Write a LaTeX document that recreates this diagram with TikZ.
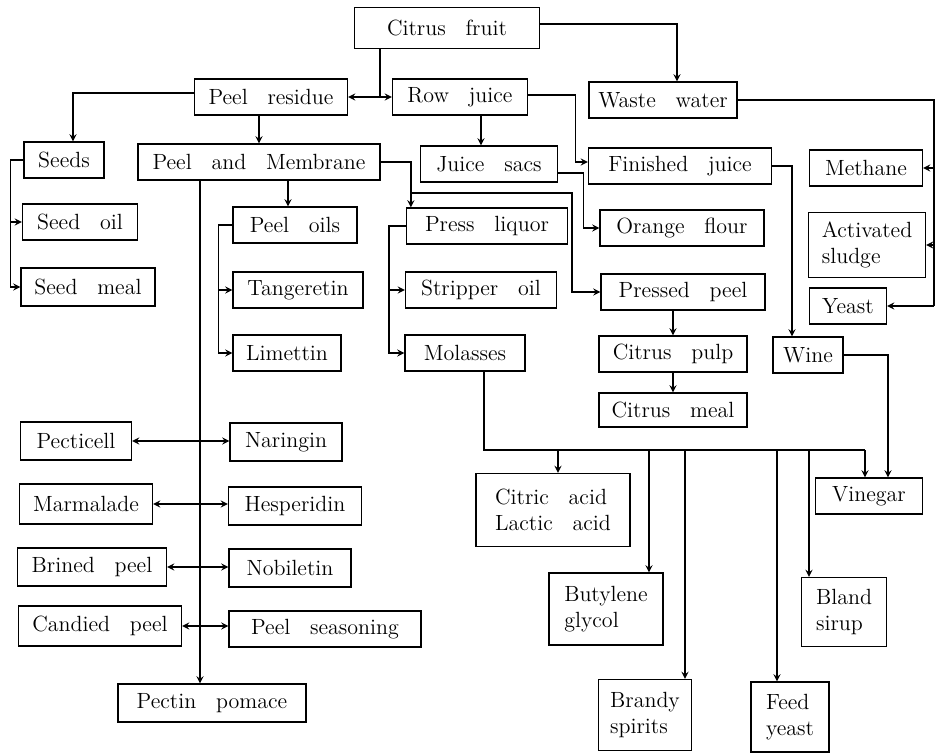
\documentclass[tikz,border=0pt]{standalone}
\newcommand\boxfont{\fontsize{11}{13}\selectfont\spaceskip=0.9em plus 0.1em\relax}
\begin{document}
\begin{tikzpicture}[x=0.5pt,y=-0.5pt,>=stealth,line width=0.6pt,
    font=\boxfont,
    box/.style={draw,rectangle,minimum height=18pt,inner sep=2pt,align=left}]
    \useasboundingbox (0,0) rectangle (936,755);
    % top row
    \node[box,minimum width=92.5pt,minimum height=20.5pt] (citrus) at (447,28) {Citrus fruit};
    \node[box,minimum width=76.5pt] (peelres) at (271,97) {Peel residue};
    \node[box,minimum width=67.5pt] (rowjuice) at (460,97) {Row juice};
    \node[box,minimum width=74pt] (waste) at (663,100) {Waste water};
    \node[box,minimum width=40pt] (seeds) at (64,160) {Seeds};
    \node[box,minimum width=121pt] (pm) at (259,162) {Peel and Membrane};
    \node[box,minimum width=68.5pt] (js) at (489,164) {Juice sacs};
    \node[box,minimum width=91.5pt] (fj) at (680,166) {Finished juice};
    \node[box,minimum width=56.5pt] (methane) at (866,168) {Methane};
    % second level
    \node[box,minimum width=57.5pt] (soil) at (80,222) {Seed oil};
    \node[box,minimum width=67pt,minimum height=19pt] (smeal) at (88,287) {Seed meal};
    \node[box,minimum width=62pt] (po) at (295,225) {Peel oils};
    \node[box,minimum width=65pt] (tang) at (298,290) {Tangeretin};
    \node[box,minimum width=54pt] (lim) at (287,353) {Limettin};
    \node[box,minimum width=80.5pt] (pl) at (487,226) {Press liquor};
    \node[box,minimum width=75.5pt] (so) at (481,290) {Stripper oil};
    \node[box,minimum width=60pt] (mol) at (465,353) {Molasses};
    \node[box,minimum width=82pt] (of) at (682,228) {Orange flour};
    \node[box,minimum width=82pt] (pp) at (683,292) {Pressed peel};
    \node[box,minimum width=58.5pt,minimum height=32.5pt] (sludge) at (867,245) {Activated\\sludge};
    \node[box,minimum width=38.5pt] (yeast) at (848,306) {Yeast};
    \node[box,minimum width=74pt] (cp) at (673,354) {Citrus pulp};
    \node[box,minimum width=35pt] (wine) at (808,355) {Wine};
    \node[box,minimum width=74pt,minimum height=17pt] (cm) at (673,410) {Citrus meal};
    % products of molasses and wine
    \node[box,minimum width=77pt,minimum height=36.5pt] (cit) at (553,510) {Citric acid\\Lactic acid};
    \node[box,minimum width=53.5pt] (vin) at (869,496) {Vinegar};
    \node[box,minimum width=57pt,minimum height=36pt] (bg) at (606,609) {Butylene\\glycol};
    \node[box,minimum width=42.5pt,minimum height=34.5pt] (bland) at (844,612) {Bland\\sirup};
    \node[box,minimum width=46.5pt,minimum height=35.5pt] (brandy) at (645,715) {Brandy\\spirits};
    \node[box,minimum width=39pt,minimum height=35pt] (feed) at (790,717) {Feed\\yeast};
    % peel products
    \node[box,minimum width=55.5pt,minimum height=19pt] (pecticell) at (76,441) {Pecticell};
    \node[box,minimum width=56pt,minimum height=19pt] (naringin) at (286,442) {Naringin};
    \node[box,minimum width=66.5pt,minimum height=20pt] (marm) at (86,504) {Marmalade};
    \node[box,minimum width=66.5pt,minimum height=19pt] (hesp) at (295,506) {Hesperidin};
    \node[box,minimum width=74.5pt,minimum height=19pt] (brined) at (92,567) {Brined peel};
    \node[box,minimum width=61pt,minimum height=19pt] (nob) at (290,568) {Nobiletin};
    \node[box,minimum width=81.5pt,minimum height=20pt] (candied) at (100,626) {Candied peel};
    \node[box,minimum width=96pt] (pseason) at (325,629) {Peel seasoning};
    \node[box,minimum width=94pt,minimum height=19pt] (pectin) at (212,703) {Pectin pomace};
    % citrus fruit
    \coordinate (split) at (380,97);
    \draw (split |- citrus.south) -- (split);
    \draw[->] (split) -- (peelres.east);
    \draw[->] (split) -- (rowjuice.west);
    \draw[->] ([yshift=2pt]citrus.east) -| ([xshift=7pt]waste.north);
    % waste water
    \coordinate (rim) at (934,100);
    \draw (waste.east) -- (rim) -- (rim |- yeast.east);
    \foreach \n in {methane,sludge,yeast}
        \draw[->] (rim |- \n.east) -- (\n.east);
    % peel residue
    \draw[->] ([yshift=2pt]peelres.west) -| ([xshift=4.5pt]seeds.north);
    \draw[->] (pm.north |- peelres.south) -- (pm.north);
    \draw[->] (seeds.west) -- ++(-13,0) |- (soil.west);
    \draw[->] (seeds.west) -- ++(-13,0) |- (smeal.west);
    % row juice
    \draw[->] ([xshift=-4pt]js.north |- rowjuice.south) -- ([xshift=-4pt]js.north);
    \draw[->] ([yshift=1pt]rowjuice.east) -- ++(47,0) |- ([yshift=2pt]fj.west);
    \draw[->] ([yshift=-4.5pt]js.east) -- ++(25,0) |- (of.west);
    \draw[->] (fj.east) -| ([xshift=-8pt]wine.north);
    % peel and membrane
    \draw[->] ([xshift=-3.5pt]po.north |- pm.south) -- ([xshift=-3.5pt]po.north);
    \draw[->] (po.west) -- ++(-14,0) |- (tang.west);
    \draw[->] (po.west) -- ++(-14,0) |- (lim.west);
    \draw[->] (pm.east) -| ([xshift=2.5pt]pl.north west);
    \coordinate (plj) at (412,193);
    \draw[->] (plj) -- ++(160,0) |- (pp.west);
    \draw[->] (pl.west) -- ++(-17,0) |- (so.west);
    \draw[->] (pl.west) -- ++(-17,0) |- (mol.west);
    \draw[->] (cp.north |- pp.south) -- (cp.north);
    \draw[->] (cm.north |- cp.south) -- (cm.north);
    % molasses
    \coordinate (bus) at (484,450);
    \coordinate (busend) at (865,450);
    \draw (bus |- mol.south) -- (bus) -- (busend);
    \foreach \x/\n in {558/cit,649/bg,685/brandy,777/feed,809/bland,865/vin}{
        \coordinate (drop) at (\x,450);
        \draw[->] (drop) -- (drop |- \n.north);
    }
    \draw[->] (wine.east) -| ([xshift=9.5pt]vin.north);
    % pectin line
    \draw[->] ([xshift=-29.5pt]pm.south) -- ([xshift=-29.5pt]pm.south |- pectin.north);
    \foreach \a/\b in {pecticell/naringin,marm/hesp,brined/nob,candied/pseason}
        \draw[<->] (\a.east) -- (\a.east -| \b.west);
\end{tikzpicture}
\end{document}
